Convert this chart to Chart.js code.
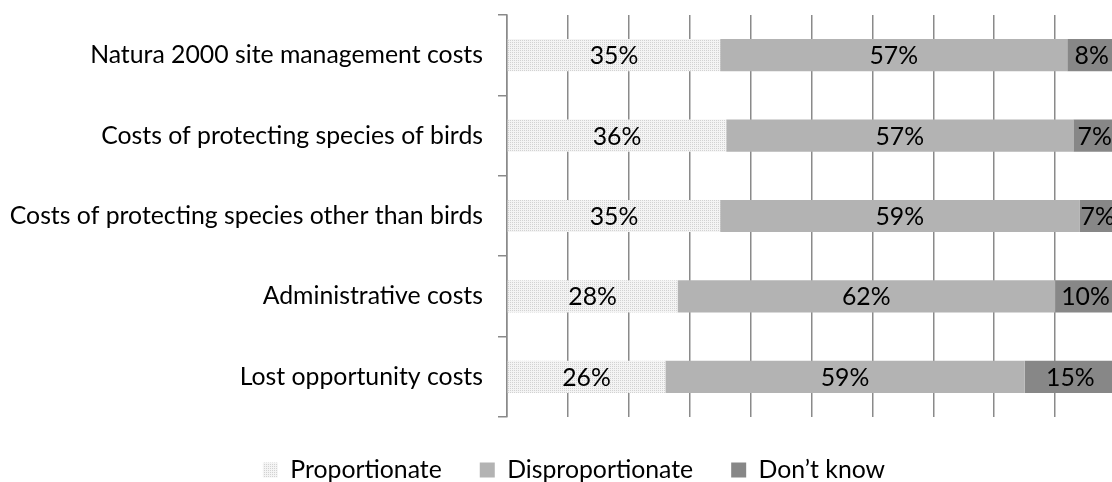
<!DOCTYPE html>
<html><head><meta charset="utf-8">
<script src="https://cdn.jsdelivr.net/npm/chart.js@4.4.1/dist/chart.umd.min.js"></script>
<style>html,body{margin:0;padding:0;overflow:hidden;background:#fff}#wrap{width:1116px;height:482px;position:relative;overflow:hidden}</style>
</head><body><div id="wrap"><canvas id="c" width="1116" height="482" style="width:1116px;height:482px"></canvas></div>
<script>
const categories = ["Natura 2000 site management costs","Costs of protecting species of birds","Costs of protecting species other than birds","Administrative costs","Lost opportunity costs"];
const seriesNames = ["Proportionate","Disproportionate","Don\u2019t know"];
const proportionate = [35,36,35,28,26];
const disproportionate = [57,57,59,62,59];
const dontKnow = [8,7,7,10,15];

const FAMILY = "Lato";
const mctx = document.createElement('canvas').getContext('2d');
mctx.font = "100px " + FAMILY;
const fontSize = Math.round(473 / mctx.measureText(categories[2]).width * 1000) / 10;
const font = {family: FAMILY, size: fontSize};

function makePattern(){
  const p = document.createElement('canvas'); p.width = 4; p.height = 4;
  const g = p.getContext('2d');
  g.fillStyle = '#f4f4f4'; g.fillRect(0,0,4,4);
  g.fillStyle = '#d2d2d2';
  g.fillRect(0,0,1,1); g.fillRect(2,2,1,1); g.fillRect(2,0,1,1); g.fillRect(0,2,1,1);
  return g.createPattern(p,'repeat');
}
const gridColor = '#8a8a8a';
const legPad = 38;
// target plot-area frame and legend centre (layout only)
const AREA = {left:507, top:15, bottom:417};
const LEG = {cx:574, cy:470};
const cv = document.getElementById('c');
const noScalePad = s => { s.paddingTop = 0; s.paddingBottom = 0; s.paddingLeft = 0; s.paddingRight = 0; };

const barLabels = {
  id:'barLabels',
  afterDatasetsDraw(chart){
    const ctx = chart.ctx; ctx.save();
    ctx.font = fontSize + 'px ' + FAMILY; ctx.fillStyle = '#000';
    ctx.textAlign = 'center'; ctx.textBaseline = 'middle';
    chart.data.datasets.forEach((ds,i)=>{
      chart.getDatasetMeta(i).data.forEach((bar,j)=>{
        const p = bar.getProps(['x','base','y'], true);
        const r = Math.min(p.x, chart.chartArea.right);
        ctx.fillText(ds.data[j] + '%', (p.base + r)/2, p.y + 1);
      });
    });
    ctx.restore();
  }
};
const legendShift = {
  id:'legendShift',
  afterLayout(chart){
    const lg = chart.legend;
    const dx = LEG.cx - (lg.left + lg.right)/2;
    lg.left += dx; lg.right += dx;
    lg.top = LEG.cy - legPad - fontSize/2;
    lg.bottom = 482;
  }
};

const ch = new Chart(cv, {
  type:'bar',
  data:{
    labels: categories,
    datasets:[
      {label: seriesNames[0], data: proportionate, backgroundColor: makePattern()},
      {label: seriesNames[1], data: disproportionate, backgroundColor: '#b3b3b3'},
      {label: seriesNames[2], data: dontKnow, backgroundColor: '#878787'}
    ]
  },
  options:{
    indexAxis:'y', responsive:false, animation:false, devicePixelRatio:1,
    datasets:{bar:{categoryPercentage:1, barPercentage:0.4, borderWidth:0}},
    layout:{autoPadding:false, padding:{left:10, top:15, right:0, bottom:0}},
    scales:{
      x:{stacked:true, min:0, max:100, afterFit: noScalePad,
        ticks:{display:false, stepSize:10},
        grid:{color:gridColor, lineWidth:1.5, drawTicks:false},
        border:{display:false}},
      y:{stacked:true, afterFit: noScalePad,
        ticks:{font, color:'#000', padding:15},
        grid:{drawOnChartArea:false, tickLength:9, color:gridColor, lineWidth:1.5, offset:true},
        border:{color:gridColor, width:1.5}}
    },
    plugins:{
      legend:{position:'bottom',
        labels:{boxWidth:15, boxHeight:15, padding:legPad, color:'#000', font:{family:FAMILY, size:fontSize, lineHeight:1}}},
      tooltip:{enabled:false}
    }
  },
  plugins:[barLabels, legendShift]
});
// second pass: correct outer padding so the plot area lands on the target frame
const ca = ch.chartArea;
ch.options.layout.padding = {
  left: 10 + (AREA.left - ca.left),
  top: 15 + (AREA.top - ca.top),
  right: 0,
  bottom: (ca.bottom - AREA.bottom)
};
ch.update();
</script></body></html>
